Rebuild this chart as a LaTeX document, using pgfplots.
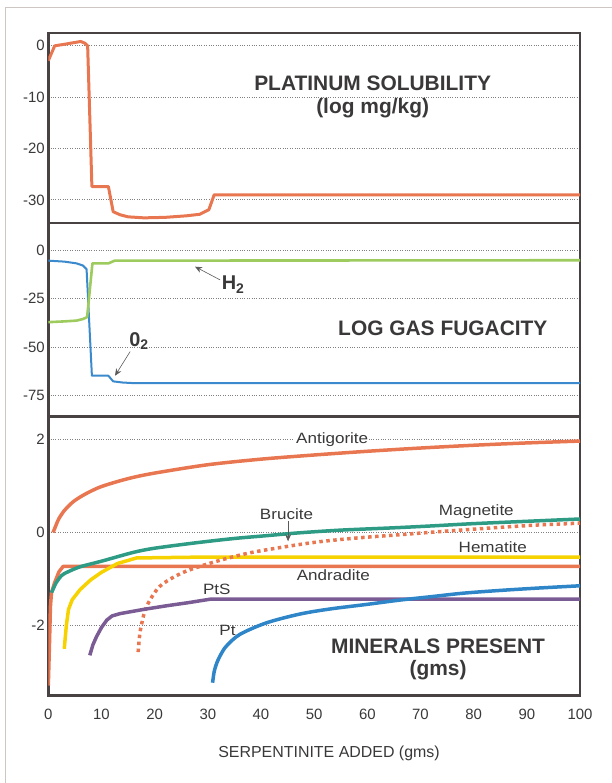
\documentclass[border=0pt]{standalone}
\usepackage{fontspec}
\setmainfont{Liberation Sans}
\newfontfamily\labfont{Liberation Sans}[FakeStretch=1.14]
\usepackage{pgfplots}
\pgfplotsset{compat=1.18}
\usetikzlibrary{arrows.meta}
\definecolor{framec}{RGB}{72,66,66}
\definecolor{txt}{RGB}{58,56,56}
\definecolor{bordc}{RGB}{205,198,195}
\definecolor{ora}{RGB}{232,118,80}
\definecolor{grn}{RGB}{157,203,94}
\definecolor{blu}{RGB}{58,138,205}
\definecolor{ptblu}{RGB}{46,134,200}
\definecolor{teal}{RGB}{46,155,133}
\definecolor{yel}{RGB}{246,210,0}
\definecolor{pur}{RGB}{123,91,148}
\pgfplotsset{
  mystyle/.style={
    scale only axis, width=531.7bp, xmin=0, xmax=100,
    axis line style={line width=2.4bp, framec},
    major tick length=0pt,
    ymajorgrids, major grid style={dotted, line width=0.8bp, gray},
    tick label style={font=\fontsize{15}{18}\selectfont, text=txt},
    clip mode=individual,
    anchor=south west,
  },
}
\tikzset{
  lab/.style={font=\labfont\fontsize{15}{18}\selectfont, text=txt},
  ttl/.style={font=\bfseries\fontsize{21}{25}\selectfont, text=txt},
  arr/.style={-{Stealth[length=7bp,width=6bp]}, line width=0.6bp, color=black!65},
}
\begin{document}
\begin{tikzpicture}
\path[use as bounding box] (0bp,0bp) rectangle (612bp,783bp);
\draw[bordc, line width=0.9bp] (5.7bp,0bp) -- (5.7bp,775.7bp) -- (612bp,775.7bp);

% ---------- Panel 1: platinum solubility
\begin{axis}[mystyle, at={(48.3bp,560bp)}, height=190bp,
  ymin=-34.5, ymax=2.5, ytick={-30,-20,-10,0}, yticklabels={-30,-20,-10,0}, xtick=\empty]
\addplot[ora, line width=3bp, line join=round] coordinates {
(0,-2.9) (1.2,0) (3,0.3) (6.1,0.85) (6.9,0.5) (7.4,0) (8.2,-27.4) (11.3,-27.4)
(12.2,-32.3) (13.5,-32.9) (15,-33.3) (18,-33.5) (22,-33.4) (26,-33.1) (28.5,-32.8)
(30.2,-31.9) (31.2,-29.0) (100,-29.0)};
\node[ttl] at (axis cs:61,-7.3) {PLATINUM SOLUBILITY};
\node[ttl] at (axis cs:61,-12.2) {(log mg/kg)};
\end{axis}

% ---------- Panel 2: log gas fugacity
\begin{axis}[mystyle, at={(48.3bp,366.5bp)}, height=193.5bp,
  ymin=-85.8, ymax=13.9, ytick={-75,-50,-25,0}, yticklabels={-75,-50,-25,0}, xtick=\empty]
\addplot[blu, line width=2bp, line join=round] coordinates {
(0,-5.5) (3,-6.0) (5.3,-6.9) (6.5,-8) (7.2,-9.9) (8.2,-64.8) (11.3,-64.8)
(12.2,-67.7) (14,-68.3) (16,-68.6) (100,-68.6)};
\addplot[grn, line width=2.6bp, line join=round] coordinates {
(0,-37.2) (3,-36.8) (5.3,-36.4) (6.5,-35.6) (7.3,-34.6) (8.3,-6.9) (11.3,-6.9)
(12.5,-5.5) (100,-5.3)};
\draw[arr] (axis cs:32.3,-15.4) -- (axis cs:27.6,-8.6);
\node[anchor=base west, inner sep=0pt, font=\bfseries\fontsize{20}{22}\selectfont, text=txt]
  at (axis cs:32.6,-20.6) {H\textsubscript{2}};
\draw[arr] (axis cs:15.4,-52.3) -- (axis cs:12.55,-64.8);
\node[anchor=base west, inner sep=0pt, font=\bfseries\fontsize{20}{22}\selectfont, text=txt]
  at (axis cs:15.2,-49.7) {0\textsubscript{2}};
\node[ttl] at (axis cs:74.2,-40.1) {LOG GAS FUGACITY};
\end{axis}

% ---------- Panel 3: minerals present
\begin{axis}[mystyle, at={(48.3bp,87.3bp)}, height=279.2bp,
  ymin=-3.52, ymax=2.5, ytick={-2,0,2}, yticklabels={-2,0,2},
  xtick={0,10,20,30,40,50,60,70,80,90,100},
  xticklabels={0,10,20,30,40,50,60,70,80,90,100},
  xticklabel style={yshift=-10bp},
  xlabel={SERPENTINITE ADDED (gms)},
  xlabel style={at={(axis description cs:0.528,-0.205)}, anchor=center,
    font=\fontsize{16}{19}\selectfont, text=txt}]
% Antigorite
\addplot[ora, line width=3.5bp, smooth, tension=0.5] coordinates {
(0.9,0) (1.5,0.17) (2,0.30) (3,0.47) (4,0.59) (5,0.69) (7,0.83) (10,0.99) (15,1.16)
(20,1.28) (30,1.46) (40,1.58) (50,1.67) (60,1.75) (70,1.82) (80,1.88) (90,1.93) (100,1.97)};
% Andradite
\addplot[ora, line width=3.5bp, line join=round] coordinates {
(0,-3.3) (0.2,-2.5) (0.4,-1.6) (0.6,-1.3) (1.2,-1.08) (2,-0.85) (2.8,-0.73) (100,-0.73)};
% Hematite
\addplot[yel, line width=3.5bp, line join=round] coordinates {
(3.0,-2.51) (3.4,-2.0) (3.8,-1.66) (4.5,-1.45) (6,-1.23) (8,-1.02) (10,-0.86)
(13,-0.67) (16.6,-0.55) (30,-0.53) (100,-0.53)};
% Brucite
\addplot[ora, line width=3.5bp, dash pattern=on 3.5bp off 3.5bp, smooth, tension=0.5] coordinates {
(16.9,-2.58) (17.2,-2.2) (17.6,-1.95) (18.5,-1.59) (21,-1.16) (25.4,-0.86) (31.7,-0.62)
(37.9,-0.44) (45,-0.30) (51,-0.20) (58,-0.12) (66,-0.05) (75,0.03) (85,0.11) (92,0.16) (100,0.20)};
% Magnetite
\addplot[teal, line width=3.5bp, smooth, tension=0.5] coordinates {
(0.6,-1.30) (1.5,-1.08) (2.5,-0.93) (3.5,-0.86) (6,-0.74) (10,-0.62) (16,-0.43) (20,-0.34)
(28,-0.22) (35,-0.13) (41,-0.07) (47,-0.01) (55,0.05) (65,0.10) (72,0.14) (80,0.19) (90,0.24) (100,0.29)};
% PtS
\addplot[pur, line width=3.5bp, line join=round] coordinates {
(7.8,-2.65) (8.4,-2.42) (9.1,-2.24) (10,-2.05) (11,-1.89) (12,-1.80) (13.5,-1.75)
(17.9,-1.66) (22.3,-1.58) (26,-1.52) (30.4,-1.44) (100,-1.44)};
% Pt
\addplot[ptblu, line width=3.5bp, smooth, tension=0.5] coordinates {
(30.9,-3.24) (31.2,-3.0) (31.7,-2.81) (32.5,-2.62) (33.5,-2.45) (36,-2.2) (41,-1.95)
(47.3,-1.76) (53,-1.65) (60,-1.55) (66,-1.46) (72.4,-1.38) (78,-1.31) (85,-1.25) (92,-1.20) (100,-1.15)};
\node[lab, fill=white, inner sep=1pt] at (axis cs:53.4,2.0) {Antigorite};
\node[lab] at (axis cs:44.8,0.40) {Brucite};
\draw[arr] (axis cs:45.1,0.25) -- (axis cs:45.1,-0.19);
\node[lab] at (axis cs:80.5,0.45) {Magnetite};
\node[lab] at (axis cs:83.6,-0.31) {Hematite};
\node[lab] at (axis cs:53.6,-0.93) {Andradite};
\node[lab] at (axis cs:31.7,-1.23) {PtS};
\node[lab] at (axis cs:33.7,-2.11) {Pt};
\node[ttl] at (axis cs:73.3,-2.45) {MINERALS PRESENT};
\node[ttl] at (axis cs:73.3,-2.96) {(gms)};
\end{axis}
\end{tikzpicture}
\end{document}
